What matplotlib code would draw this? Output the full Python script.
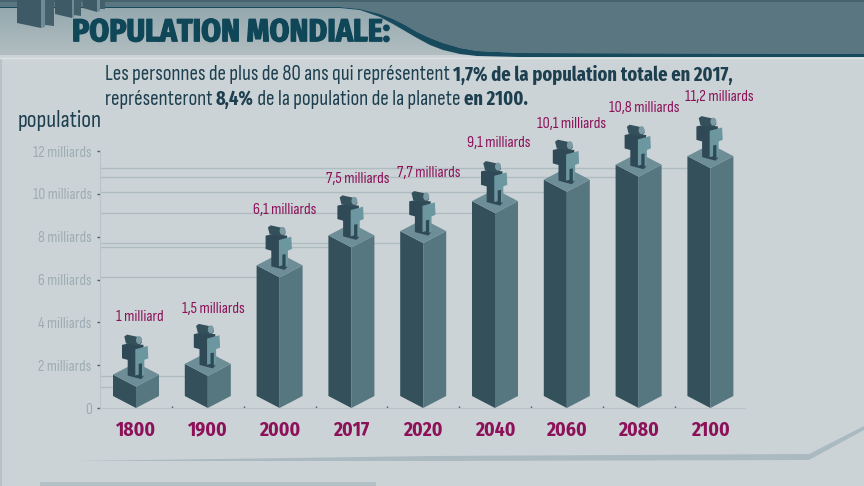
import matplotlib
matplotlib.use("Agg")
import matplotlib.pyplot as plt
import matplotlib.patheffects as pe
from matplotlib.patches import Polygon, Ellipse
import numpy as np

W, H = 864, 486
BG = "#cbd3d6"
INK = "#1d3f4f"
PLUM = "#8c1159"
DARK_FACE = "#34505b"
LIGHT_FACE = "#567680"
TOP_FACE = "#6d8d97"

years = ["1800", "1900", "2000", "2017", "2020", "2040", "2060", "2080", "2100"]
population = [1, 1.5, 6.1, 7.5, 7.7, 9.1, 10.1, 10.8, 11.2]
value_labels = ["1 milliard", "1,5 milliards", "6,1 milliards", "7,5 milliards", "7,7 milliards",
                "9,1 milliards", "10,1 milliards", "10,8 milliards", "11,2 milliards"]
y_ticks = [0, 2, 4, 6, 8, 10, 12]
y_tick_labels = ["0", "2 milliards", "4 milliards", "6 milliards", "8 milliards", "10 milliards", "12 milliards"]

# hand placed label offsets, in pixels from the front corner of each bar top
label_dx = [4, 6, 5, 6, 6, 4, 5, 6, 9]
label_dy = [70, 67, 67, 68, 70, 70, 68, 69, 71]

NARROW = ["Sofia Sans Condensed", "Roboto Condensed", "Roboto", "DejaVu Sans"]
HEAVY = ["Fira Sans Condensed", "Roboto Condensed", "Roboto", "DejaVu Sans"]
BOLD_BODY = ["Fira Sans Extra Condensed", "Roboto Condensed", "Roboto", "DejaVu Sans"]
plt.rcParams["font.family"] = NARROW


def px_pt(p):
    return p * 72 / 100


fig = plt.figure(figsize=(W / 100, H / 100), dpi=100, facecolor=BG)

# background layer uses pixel coordinates
bg = fig.add_axes([0, 0, 1, 1])
grad = np.linspace(0, 1, 60)[:, None]
top_c = np.array([0x8f, 0xa5, 0xab]) / 255
bot_c = np.array([0xb2, 0xbe, 0xc1]) / 255
bg.imshow(top_c + grad[:, :, None] * (bot_c - top_c), extent=(0, W, 55, 0), aspect="auto", zorder=1)
bg.set_xlim(0, W)
bg.set_ylim(H, 0)
bg.axis("off")

# dark right part of the header, bounded by the swoosh
upper = [(0, 7), (340, 7), (360, 9), (380, 14), (393, 19), (405, 25), (417, 32), (430, 38), (443, 43),
         (460, 48), (477, 51), (520, 53), (864, 54)]
lower = [(864, 57), (520, 57), (477, 56), (460, 54), (443, 50), (430, 45), (417, 38), (405, 31), (393, 24),
         (380, 17), (360, 10), (340, 8), (0, 8)]
bg.add_patch(Polygon([(0, 0), (864, 0)] + upper[::-1], fc="#5a7681", ec="none", zorder=2))
bg.add_patch(Polygon(upper + lower, fc="#174a5c", ec="none", zorder=3))
bg.plot([0, 864], [58, 58], color="#dde3e5", lw=1, zorder=3)
bg.add_patch(Polygon([(0, 0), (864, 0), (864, 2), (0, 2)], fc="#46626d", ec="none", zorder=3))

# building blocks cut off by the top edge
blocks = [
    ([(17, 0), (17, 23), (41, 28), (41, 0)], "#3e5a66"),
    ([(41, 0), (41, 28), (45, 27), (45, 0)], "#6f8c96"),
    ([(45, 0), (45, 25), (54, 26), (54, 0)], "#44606b"),
    ([(55, 0), (55, 14), (72, 18), (72, 0)], "#3e5a66"),
    ([(72, 0), (72, 18), (74, 17), (74, 0)], "#6f8c96"),
    ([(74, 0), (74, 15), (81, 16), (81, 0)], "#44606b"),
    ([(83, 0), (83, 8), (97, 12), (97, 0)], "#3e5a66"),
    ([(97, 0), (97, 12), (100, 11), (100, 0)], "#6f8c96"),
    ([(100, 0), (100, 9), (105, 9), (105, 0)], "#44606b"),
]
for pts, col in blocks:
    bg.add_patch(Polygon(pts, fc=col, ec="none", zorder=4))

# footer shapes
bg.add_patch(Polygon([(75, 461), (432, 456), (809, 454), (864, 426), (864, 430), (809, 460), (432, 461)],
                     fc="#abbac0", ec="none", zorder=1))
bg.add_patch(Polygon([(40, 482), (376, 482), (376, 486), (40, 486)], fc="#b2c0c5", ec="none", zorder=1))
bg.add_patch(Polygon([(0, 58), (2, 58), (2, 486), (0, 486)], fc="#b8c2c6", ec="none", zorder=1))

bg.text(72, 33, "POPULATION MONDIALE:", fontsize=px_pt(31.7), fontweight="bold", color="#0f4658", family=HEAVY,
        va="center", ha="left", zorder=6,
        path_effects=[pe.withStroke(linewidth=0.9, foreground="#0f4658")])
bg.text(18, 120, "population", fontsize=px_pt(23.5), color=INK, va="center", ha="left", zorder=6)


def write_runs(x, y, runs):
    """Write regular and bold pieces one after the other on a line."""
    rend = fig.canvas.get_renderer()
    for txt, bold in runs:
        if bold:
            t = bg.text(x, y, txt, fontsize=px_pt(20), fontweight="bold", family=BOLD_BODY, color=INK,
                        va="center_baseline", ha="left", zorder=6)
        else:
            t = bg.text(x, y, txt, fontsize=px_pt(21), color=INK,
                        va="center_baseline", ha="left", zorder=6)
        x = t.get_window_extent(rend).x1


write_runs(105, 72.5, [("Les personnes de plus de 80 ans qui représentent ", False),
                       ("1,7% de la population totale en 2017,", True)])
write_runs(105, 97, [("représenteront ", False), ("8,4%", True),
                     (" de la population de la planete ", False), ("en 2100.", True)])

# chart layer: axes box lines up with the y ticks and the bar spacing
x_left, x_right, y_top, y_base = 100, 745, 151, 408
ax = fig.add_axes([x_left / W, 1 - y_base / H, (x_right - x_left) / W, (y_base - y_top) / H])
ax.patch.set_alpha(0)
step = 71.8
x = np.arange(len(years))
ax.set_xlim((x_left - 136) / step, (x_right - 136) / step)
ax.set_ylim(0, 12)
sx = 1 / step
sy = 12 / (y_base - y_top)

for side in ["top", "right"]:
    ax.spines[side].set_visible(False)
for side in ["left", "bottom"]:
    ax.spines[side].set_color("#b9c4c8")
    ax.spines[side].set_linewidth(0.8)

ax.set_yticks(y_ticks, labels=y_tick_labels, fontsize=px_pt(15.5), color="#9dacb2")
ax.tick_params(axis="y", length=2, width=1, color="#4a5f68", pad=4)
ax.set_xticks(x, labels=years, fontsize=px_pt(19.5), fontweight="bold", color=PLUM, family=HEAVY)
ax.tick_params(axis="x", length=0, pad=9)
ax.set_xticks(x[:-1] + 0.5, minor=True)
ax.tick_params(axis="x", which="minor", length=1.5, width=1, color="#4a5f68", direction="in")

ax.hlines(population, ax.get_xlim()[0], x, color="#aebbc0", lw=1, zorder=1)

half = 23 * sx
rise = 12 * sy

# person outline in pixels from the front corner of the bar top
person_dark = [(-14, 41.7), (-6.7, 43.3), (7.5, 41.7), (7.5, 10), (5, 7.5), (-8.3, 11), (-8.3, 26.7), (-14, 28.3)]
person_light = [(-0.7, 37.3), (11.7, 40.7), (12.3, 28.3), (8.3, 26.7), (8.3, 11.7), (6, 10), (6, 23.3),
                (2.7, 22.7), (2.7, 12), (-0.7, 11)]
person_head = [(-11.7, 50), (-9, 52), (5, 49), (6, 44), (3, 41), (-10, 43)]


def place(points, cx, cy):
    return [(cx + px * sx, cy + py * sy) for px, py in points]


for xi, v in zip(x, population):
    ax.add_patch(Polygon([(xi - half, rise), (xi, 0), (xi, v), (xi - half, v + rise)],
                         fc=DARK_FACE, ec="none", zorder=3, clip_on=False))
    ax.add_patch(Polygon([(xi, 0), (xi + half, rise), (xi + half, v + rise), (xi, v)],
                         fc=LIGHT_FACE, ec="none", zorder=3, clip_on=False))
    ax.add_patch(Polygon([(xi, v), (xi + half, v + rise), (xi, v + 2 * rise), (xi - half, v + rise)],
                         fc=TOP_FACE, ec="none", zorder=3, clip_on=False))
    ax.add_patch(Polygon(place(person_dark, xi, v), fc="#2f4a56", ec="none", zorder=4, clip_on=False))
    ax.add_patch(Polygon(place(person_light, xi, v), fc="#6c97a1", ec="none", zorder=5, clip_on=False))
    ax.add_patch(Polygon(place(person_head, xi, v), fc="#34505b", ec="none", zorder=5, clip_on=False))
    ax.add_patch(Ellipse((xi + 3 * sx, v + 46.5 * sy), 6 * sx, 8 * sy, fc="#7c9aa3", ec="none", zorder=6,
                         clip_on=False))

for xi, v, lab, dx, dy in zip(x, population, value_labels, label_dx, label_dy):
    ax.annotate(lab, (xi, v), xytext=(dx, dy), textcoords="offset pixels", ha="center", va="center",
                fontsize=px_pt(16), color=PLUM, annotation_clip=False, zorder=7)

fig.savefig("out.png", dpi=100, facecolor=BG)
